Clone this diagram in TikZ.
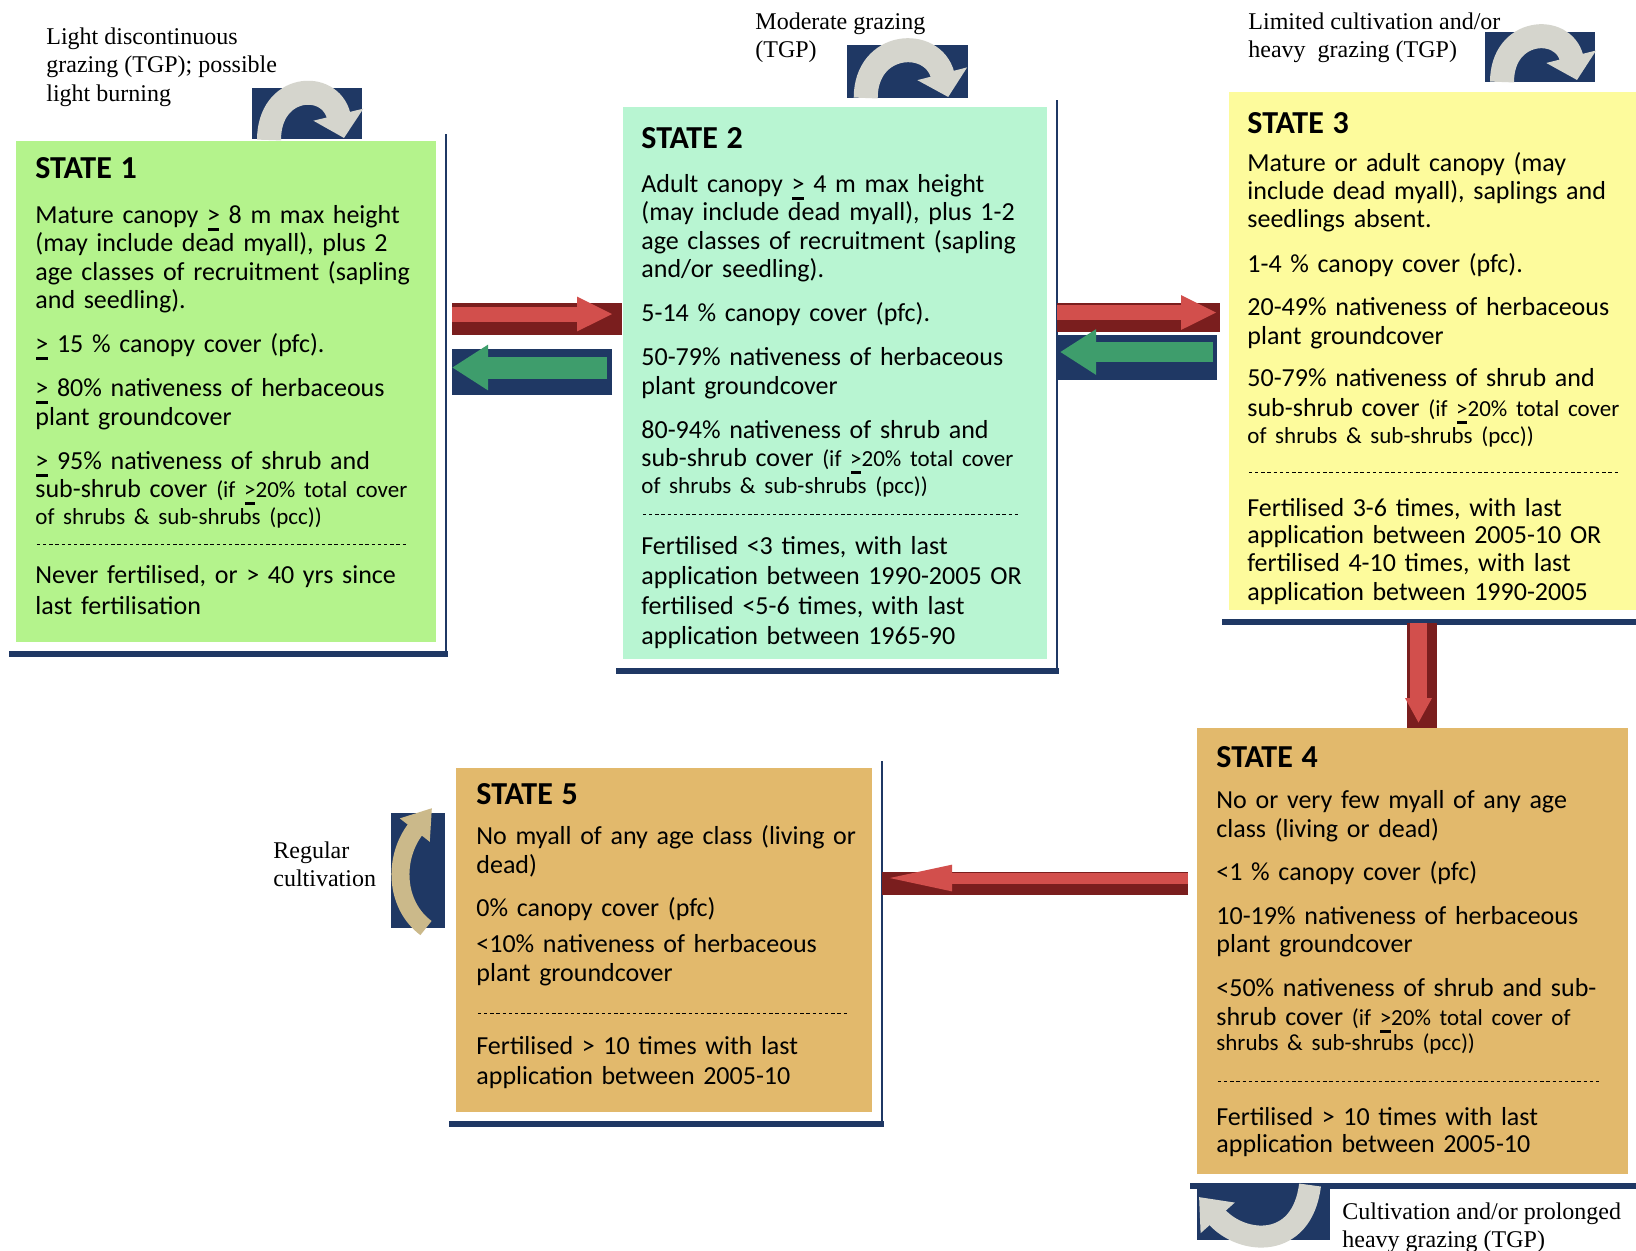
\documentclass[tikz,border=0pt]{standalone}
\usepackage{fontspec}
\setmainfont{Carlito}
\newfontfamily\serifl{Liberation Serif}
\usetikzlibrary{arrows.meta,calc,positioning}

\definecolor{navy}{HTML}{1F3864}
\definecolor{stone}{HTML}{B4F38C}
\definecolor{sttwo}{HTML}{B8F5D2}
\definecolor{stthree}{HTML}{FDFB9C}
\definecolor{sttan}{HTML}{E2B96C}
\definecolor{redlo}{HTML}{7A1E1E}
\definecolor{redhi}{HTML}{D24F4C}
\definecolor{greenhi}{HTML}{3E9D6C}
\definecolor{arcgrey}{HTML}{D5D5CD}
\definecolor{arctan}{HTML}{CBB98A}

\newcommand{\gequ}{\mbox{\rlap{\hspace{0.03em}\rule[-3.6pt]{0.44em}{1.3pt}}>}}
\newcommand{\sm}[1]{{\fontsize{11.5}{13}\selectfont #1}}
\newcommand{\hd}[1]{{\fontsize{16}{18}\selectfont\bfseries #1}}
\newcommand{\dashrow}[1]{\makebox[#1][l]{\leaders\hbox to 3.1pt{\hss\rule[3pt]{1.7pt}{0.45pt}\hss}\hfill}}

\begin{document}
\begin{tikzpicture}[x=0.5pt,y=-0.5pt,
    statebox/.style={anchor=north west,inner sep=0pt,outer sep=0pt},
    statetext/.style={anchor=north west,inner sep=0pt,text width=230pt,align=left,
        font=\fontsize{13}{14.25}\selectfont},
    labeltext/.style={anchor=north west,inner sep=0pt,align=left,
        font=\serifl\fontsize{12}{14.35}\selectfont},
    rimside/.style={draw=navy,line width=1.3pt},
    rimbase/.style={draw=navy,line width=3pt},
    redbase/.style={draw=redlo,line width=16pt},
    redtop/.style={draw=redhi,line width=7.5pt,-{Triangle[length=18pt,width=16pt]}},
    greenbase/.style={draw=navy,line width=23pt},
    greentop/.style={draw=greenhi,line width=11pt,-{Triangle[length=18pt,width=21.5pt]}},
    arch/.style={draw=arcgrey,line width=12pt,-{Triangle[length=12pt,width=25pt]}}]

    % 描画範囲
    \useasboundingbox (0,0) rectangle (1636,1250);
    \fill[white] (0,0) rectangle (1636,1250);

    % 状態の箱
    \node[statebox,fill=stone,minimum width=210pt,minimum height=250.5pt] (s1) at (16,141) {};
    \node[statebox,fill=sttwo,minimum width=212pt,minimum height=276pt] (s2) at (623,107) {};
    \node[statebox,fill=stthree,minimum width=210pt,minimum height=259pt] (s3) at (1229,92) {};
    \node[statebox,fill=sttan,minimum width=215.5pt,minimum height=223pt] (s4) at (1197,728) {};
    \node[statebox,fill=sttan,minimum width=208pt,minimum height=172pt] (s5) at (456,768) {};

    % 箱の影の線
    \foreach \s in {s1,s2,s3,s4,s5} {
        \draw[rimside] ($(\s.north east)+(10,-7)$) -- ($(\s.south east)+(10,12)$);
        \draw[rimbase] ($(\s.south west)+(-7,12)$) -- ($(\s.south east)+(11.5,12)$);
    }

    % 箱の中の文
    \node[statetext] (t1) at ($(s1.north west)+(19,16)$) {%
        \hd{STATE 1}\\[8.25pt]
        Mature canopy \gequ{} 8 m max height\\
        (may include dead myall), plus 2\\
        age classes of recruitment (sapling\\
        and seedling).\\[7.75pt]
        \gequ{} 15 \% canopy cover (pfc).\\[7.75pt]
        \gequ{} 80\% nativeness of herbaceous\\
        plant groundcover\\[7.75pt]
        \gequ{} 95\% nativeness of shrub and\\[-0.25pt]
        sub-shrub cover \sm{(if \gequ20\% total cover}\\[-0.75pt]
        \sm{of shrubs \& sub-shrubs (pcc))}\\[-0.75pt]
        \dashrow{187pt}\\[1.75pt]
        Never fertilised, or > 40 yrs since\\[1.25pt]
        last fertilisation};
    \node[statetext] (t2) at ($(s2.north west)+(18,20)$) {%
        \hd{STATE 2}\\[7.75pt]
        Adult canopy \gequ{} 4 m max height\\
        (may include dead myall), plus 1-2\\
        age classes of recruitment (sapling\\
        and/or seedling).\\[7.75pt]
        5-14 \% canopy cover (pfc).\\[7.75pt]
        50-79\% nativeness of herbaceous\\
        plant groundcover\\[7.75pt]
        80-94\% nativeness of shrub and\\[-0.25pt]
        sub-shrub cover \sm{(if \gequ20\% total cover}\\[-0.75pt]
        \sm{of shrubs \& sub-shrubs (pcc))}\\[-0.25pt]
        \dashrow{192pt}\\[2.25pt]
        Fertilised <3 times, with last\\[0.75pt]
        application between 1990-2005 OR\\[0.75pt]
        fertilised <5-6 times, with last\\[0.75pt]
        application between 1965-90};
    \node[statetext] (t3) at ($(s3.north west)+(18,20)$) {%
        \hd{STATE 3}\\[4.75pt]
        Mature or adult canopy (may\\[-0.25pt]
        include dead myall), saplings and\\[-0.25pt]
        seedlings absent.\\[8.25pt]
        1-4 \% canopy cover (pfc).\\[7.25pt]
        20-49\% nativeness of herbaceous\\[0.25pt]
        plant groundcover\\[6.75pt]
        50-79\% nativeness of shrub and\\[0.75pt]
        sub-shrub cover \sm{(if \gequ20\% total cover}\\[-0.75pt]
        \sm{of shrubs \& sub-shrubs (pcc))}\\[3.75pt]
        \dashrow{188pt}\\[4.25pt]
        Fertilised 3-6 times, with last\\[-0.75pt]
        application between 2005-10 OR\\[-0.25pt]
        fertilised 4-10 times, with last\\[0.25pt]
        application between 1990-2005};
    \node[statetext] (t4) at ($(s4.north west)+(19,18)$) {%
        \hd{STATE 4}\\[6.25pt]
        No or very few myall of any age\\[0.25pt]
        class (living or dead)\\[7.25pt]
        <1 \% canopy cover (pfc)\\[7.75pt]
        10-19\% nativeness of herbaceous\\[-0.25pt]
        plant groundcover\\[7.75pt]
        <50\% nativeness of shrub and sub-\\[0.25pt]
        shrub cover \sm{(if \gequ20\% total cover of}\\[-1.75pt]
        \sm{shrubs \& sub-shrubs (pcc))}\\[4.25pt]
        \dashrow{193pt}\\[4.75pt]
        Fertilised > 10 times with last\\[-0.75pt]
        application between 2005-10};
    \node[statetext] (t5) at ($(s5.north west)+(20,15)$) {%
        \hd{STATE 5}\\[5.75pt]
        No myall of any age class (living or\\[0.25pt]
        dead)\\[7.25pt]
        0\% canopy cover (pfc)\\[3.75pt]
        <10\% nativeness of herbaceous\\[0.25pt]
        plant groundcover\\[4.75pt]
        \dashrow{188pt}\\[3.25pt]
        Fertilised > 10 times with last\\[0.75pt]
        application between 2005-10};

    % 状態間の矢印
    \coordinate (ya) at (0,319);
    \coordinate (yb) at (0,371.5);
    \coordinate (yc) at (0,317.5);
    \coordinate (yd) at (0,357.5);
    \coordinate (ye) at (0,883.5);
    \coordinate (xd) at (1422,0);

    \draw[redbase] ($(s1.east |- ya)+(16,0)$) -- ($(s2.west |- ya)+(-1,0)$);
    \draw[redtop,shorten >=4.5pt,transform canvas={yshift=2.5pt}]
        ($(s1.east |- ya)+(16,0)$) -- ($(s2.west |- ya)+(-1,0)$);
    \draw[greenbase] ($(s2.west |- yb)+(-11,0)$) -- ($(s1.east |- yb)+(16,0)$);
    \draw[greentop,shorten <=2.5pt,transform canvas={yshift=2pt}]
        ($(s2.west |- yb)+(-11,0)$) -- ($(s1.east |- yb)+(16,0)$);

    \draw[redbase,line width=14.5pt] ($(s2.east |- yc)+(10,0)$) -- ($(s3.west |- yc)+(-9,0)$);
    \draw[redtop,shorten >=1.5pt,transform canvas={yshift=2.5pt}]
        ($(s2.east |- yc)+(10,0)$) -- ($(s3.west |- yc)+(-9,0)$);
    \draw[greenbase,line width=22.5pt] ($(s3.west |- yd)+(-12,0)$) -- ($(s2.east |- yd)+(10,0)$);
    \draw[greentop,line width=10pt,shorten <=2pt,shorten >=1.5pt,transform canvas={yshift=2.75pt}]
        ($(s3.west |- yd)+(-12,0)$) -- ($(s2.east |- yd)+(10,0)$);

    \draw[redbase,line width=15pt] ($(xd |- s3.south)+(0,13)$) -- (xd |- s4.north);
    \draw[redtop,line width=8.5pt,shorten >=2.5pt,transform canvas={xshift=-1.75pt},
        -{Triangle[length=12.5pt,width=12.5pt]}]
        ($(xd |- s3.south)+(0,13)$) -- (xd |- s4.north);

    \draw[redbase,line width=11.5pt] ($(s4.west |- ye)+(-9,0)$) -- ($(s5.east |- ye)+(10,0)$);
    \draw[redtop,line width=5.5pt,transform canvas={yshift=2.75pt},
        -{Triangle[length=35pt,width=11.5pt]}]
        ($(s4.west |- ye)+(-9,0)$) -- ($(s5.east |- ye)+(10,0)$);

    % 曲がった矢印のアイコン
    \coordinate (ic1) at (252,88);
    \coordinate (ic2) at (847,45);
    \coordinate (ic3) at (1485,32);
    \coordinate (ic4) at (391,813);
    \coordinate (ic5) at (1197,1185);

    \begin{scope}[shift={(ic1)}]
        \fill[navy] (0,0) rectangle (110,51);
        \draw[arch] (17,52) .. controls (17,-4) and (78,-8) .. (92,50);
    \end{scope}
    \begin{scope}[shift={(ic2)},xscale=1.1]
        \fill[navy] (0,0) rectangle (110,53);
        \draw[arch] (17,53) .. controls (17,-4) and (78,-8) .. (92,52);
    \end{scope}
    \begin{scope}[shift={(ic3)}]
        \fill[navy] (0,0) rectangle (110,50);
        \draw[arch] (17,50) .. controls (17,-4) and (78,-8) .. (92,48);
    \end{scope}
    \begin{scope}[shift={(ic4)}]
        \fill[navy] (0,0) rectangle (54,115);
        \draw[arch,draw=arctan,line width=9pt,-{Triangle[length=14pt,width=18pt]}]
            (35,115) .. controls (4,92) and (2,45) .. (41,-5);
    \end{scope}
    \begin{scope}[shift={(ic5)}]
        \fill[navy] (0,0) rectangle (133,55);
        \draw[arch,line width=11pt,-{Triangle[length=14pt,width=22pt]}]
            (113,0) .. controls (105,65) and (45,60) .. (2,12);
    \end{scope}

    % ラベル
    \node[labeltext] (lgraze1) at (46,27) {Light discontinuous\\grazing (TGP); possible\\light burning};
    \node[labeltext] (lgraze2) at (755,12) {Moderate grazing\\(TGP)};
    \node[labeltext] (lgraze3) at (1248,12) {Limited cultivation and/or\\heavy\ \ grazing (TGP)};
    \node[labeltext] (lcult) at (273,841) {Regular\\cultivation};
    \node[labeltext] (lprolong) at (1342,1202) {Cultivation and/or prolonged\\heavy grazing (TGP)};

\end{tikzpicture}
\end{document}
